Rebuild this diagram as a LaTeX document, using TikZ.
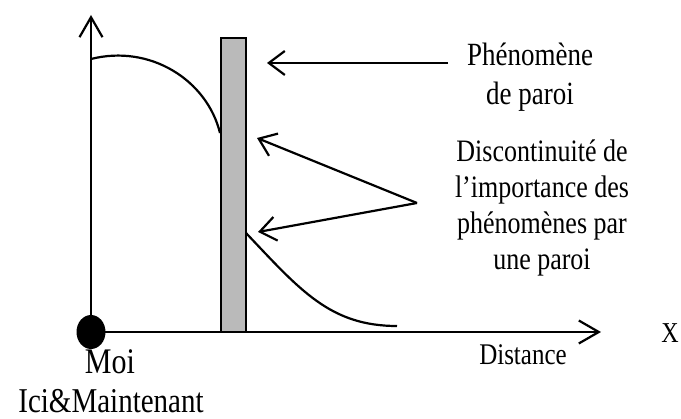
\documentclass[tikz,border=0pt]{standalone}
\usepackage{fontspec}
\setmainfont{Liberation Serif}
\usetikzlibrary{arrows.meta,shapes.geometric}
\tikzset{
  axe/.style={line width=2.2pt, -{Straight Barb[length=20pt,width=23pt,line width=2.2pt]}},
  fleche/.style={line width=2.2pt, -{Straight Barb[length=16pt,width=24pt,line width=2.2pt]}},
  courbe/.style={line width=2.2pt},
  txt/.style={font=\fontsize{#1}{30}\selectfont, align=center, inner sep=0pt, yscale=1.2},
  txt/.default=26,
}
\begin{document}
\begin{tikzpicture}[x=1pt,y=-1pt]
  \useasboundingbox (0,0) rectangle (681,419);
  % axes
  \coordinate (O) at (91,332);
  \coordinate (Ytop) at (91,15);
  \coordinate (Xend) at (601,332);
  \draw[axe] (O) -- (Ytop);
  \draw[axe] (O) -- (Xend);
  \node[fill=black, ellipse, minimum width=29pt, minimum height=34pt, inner sep=0pt] (moi) at (O) {};
  % paroi
  \node[draw, line width=2pt, fill=black!27, minimum width=25pt, minimum height=294pt, inner sep=0pt] (paroi) at (233.5,185) {};
  % courbes
  \draw[courbe] (91,59) .. controls (150,44) and (207,80) .. (220,133);
  \draw[courbe] (246,233) .. controls (300,290) and (330,326) .. (397,326);
  % textes
  \node[txt=27] (phen) at (530,77) {Phénomène\\[3pt]de paroi};
  \node[txt] (disc) at (542,208) {Discontinuité de\\l'importance des\\phénomènes par\\une paroi};
  \node[txt=24] (xlab) at (670,333) {X};
  \node[txt=25] (dist) at (523,355) {Distance};
  \node[txt=30] (moilab) at (110,362) {Moi};
  \node[txt=29] (ici) at (111,401) {Ici\&Maintenant};
  % fleches
  \coordinate (A1) at (448,63);
  \coordinate (A2) at (417,203);
  \draw[fleche] (A1) -- (267,63);
  \draw[fleche] (A2) -- (257,138);
  \draw[fleche] (A2) -- (258,232);
\end{tikzpicture}
\end{document}
